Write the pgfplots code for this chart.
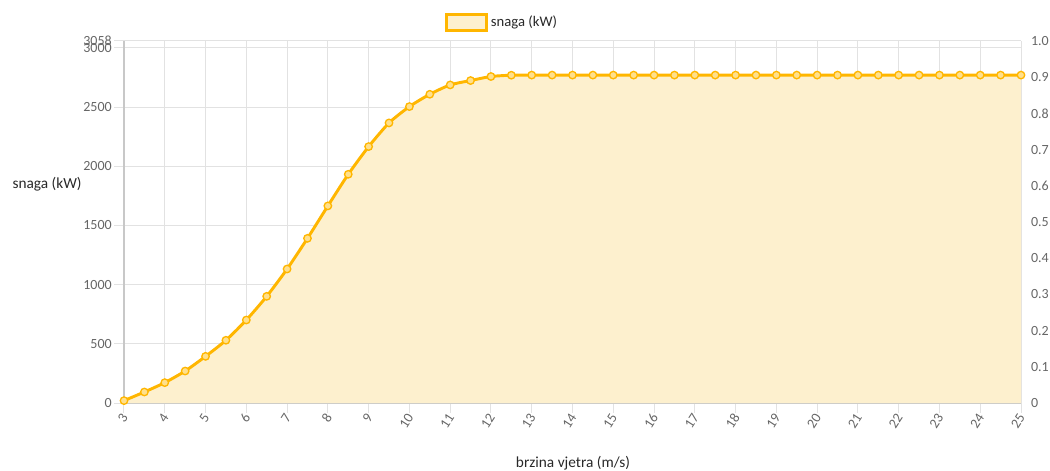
\documentclass[border=0pt]{standalone}
\usepackage{pgfplots}
\pgfplotsset{compat=1.18}
\usepackage{pgfplotstable}
\usepackage{fontspec}
\setmainfont{Carlito}
\definecolor{lineC}{RGB}{255,182,0}
\definecolor{fillC}{RGB}{253,240,206}
\definecolor{markC}{RGB}{255,224,140}
\definecolor{gridC}{RGB}{226,226,226}
\definecolor{axisC}{RGB}{200,200,200}
\definecolor{tickC}{RGB}{102,102,102}
\definecolor{labC}{RGB}{40,40,40}

\pgfplotstableread{
x y
3 20
3.5 93
4 172
4.5 270
5 394
5.5 530
6 701
6.5 901
7 1132
7.5 1391
8 1665
8.5 1932
9 2166
9.5 2366
10 2504
10.5 2608
11 2687
11.5 2724
12 2758
12.5 2769
13 2770
13.5 2770
14 2770
14.5 2770
15 2770
15.5 2770
16 2770
16.5 2770
17 2770
17.5 2770
18 2770
18.5 2770
19 2770
19.5 2770
20 2770
20.5 2770
21 2770
21.5 2770
22 2770
22.5 2770
23 2770
23.5 2770
24 2770
24.5 2770
25 2770
}\data

\begin{document}
\begin{tikzpicture}
\useasboundingbox (-93pt,-51pt) rectangle (694.5pt,302.25pt);
\begin{axis}[
 at={(0,0)}, anchor=south west,
 scale only axis, width=672.75pt, height=271.5pt,
 xmin=3, xmax=25, ymin=0, ymax=3058,
 axis x line*=bottom, axis y line*=left,
 xtick={3,4,...,25},
 ytick={0,500,1000,1500,2000,2500,3000,3058},
 yticklabels={0,500,1000,1500,2000,2500,3000,3058},
 /pgf/number format/assume math mode=true,
 grid=major, major grid style={gridC, line width=0.75pt},
 axis line style={axisC, line width=1pt},
 tick align=outside, major tick length=7.5pt,
 tick style={gridC, line width=0.75pt},
 ticklabel style={text=tickC, font=\fontsize{10.5}{12}\selectfont},
 xticklabel style={rotate=57, anchor=east, inner sep=1pt, yshift=-1.5pt},
 yticklabel style={inner sep=1.5pt},
 xlabel={brzina vjetra (m/s)},
 xlabel style={font=\fontsize{11.5}{13}\selectfont, text=labC, at={(axis description cs:0.5006,-0.166)}, anchor=center},
 ylabel={snaga (kW)},
 ylabel style={rotate=-90, font=\fontsize{11.5}{13}\selectfont, text=labC, at={(axis description cs:-0.0858,0.605)}, anchor=center},
 legend style={draw=none, fill=none, at={(axis description cs:0.422,1.052)}, anchor=center, font=\fontsize{11}{13}\selectfont, text=labC},
 legend cell align=left,
 clip=false,
]
\addplot[fill=fillC, draw=none, smooth, tension=0.4, forget plot] table[x=x,y=y]{\data} \closedcycle;
\addplot[lineC, line width=2.2pt, smooth, tension=0.4, mark=*, mark size=2.8pt,
  mark options={fill=markC, draw=lineC, line width=1pt}, forget plot] table[x=x,y=y]{\data};
\addlegendimage{legend image code/.code={\draw[draw=lineC, fill=fillC, line width=2.2pt] (-3pt,-6pt) rectangle (27pt,6pt);}}
\addlegendentry{snaga (kW)}
\end{axis}
\begin{axis}[
 at={(0,0)}, anchor=south west,
 scale only axis, width=672.75pt, height=271.5pt,
 xmin=3, xmax=25, ymin=0, ymax=1,
 hide x axis, axis y line*=right,
 y axis line style={draw=none},
 ytick={0,0.1,0.2,0.3,0.4,0.5,0.6,0.7,0.8,0.9,1},
 yticklabels={0,0.1,0.2,0.3,0.4,0.5,0.6,0.7,0.8,0.9,1.0},
 /pgf/number format/assume math mode=true,
 major tick length=0pt,
 yticklabel style={text=tickC, font=\fontsize{10.5}{12}\selectfont, anchor=west, xshift=4pt},
]
\addplot[draw=none] coordinates {(3,0)};
\end{axis}
\end{tikzpicture}
\end{document}
